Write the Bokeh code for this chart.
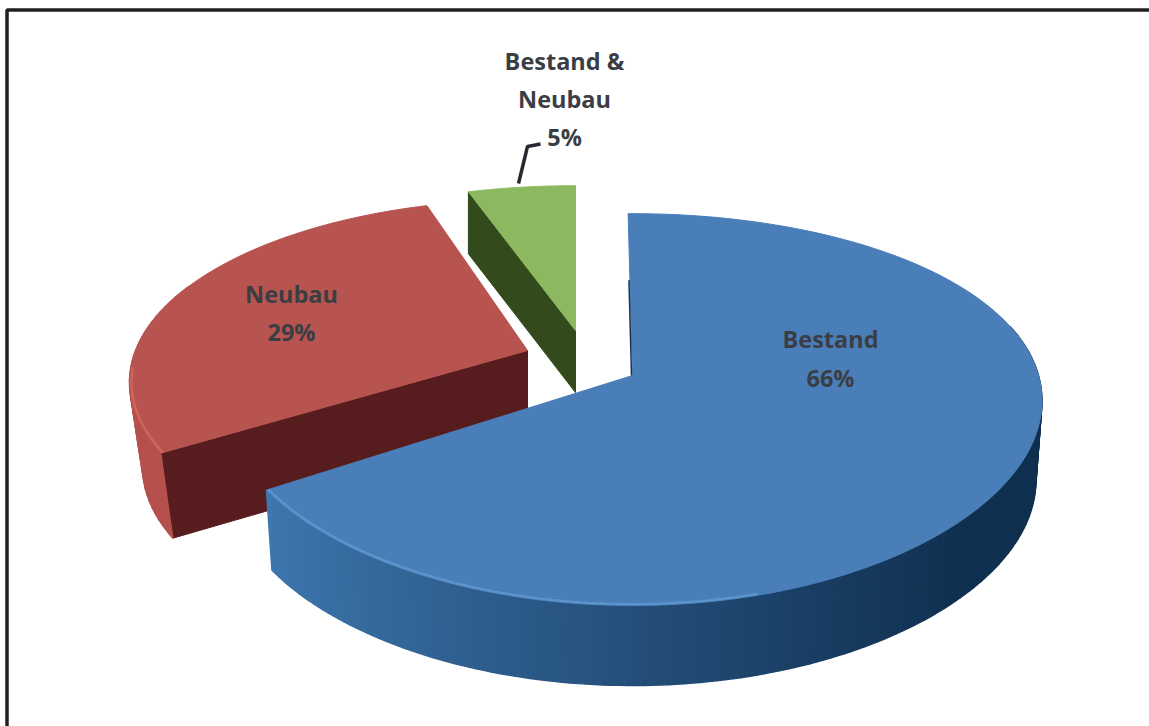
import numpy as np
from bokeh.core.properties import value
from bokeh.embed import file_html
from bokeh.models import Range1d
from bokeh.plotting import figure
from bokeh.resources import INLINE

# Share of each building type, clockwise from twelve o'clock
categories = ["Bestand", "Neubau", "Bestand & Neubau"]
shares = [66, 29, 5]
label_lines = [["Bestand", "66%"], ["Neubau", "29%"], ["Bestand &", "Neubau", "5%"]]

# Exploded-pie layout per slice: apex, radii, wall depth, taper of the wall's
# lower edge, small rotation and horizontal perspective
apex_x = [632, 527, 575]
apex_y = [375, 350, 330]
radius_x = [406, 392, 404]
radius_y = [190, 177, 170]
depth = [80, 85, 62]
taper = [0.985, 0.967, 1.0]
rotation = np.deg2rad([-0.7, 0.6, 0.0])
perspective_x = [0.13, 0.174, 0.174]
perspective_y = 0.174

top_colors = ["#4a7eb9", "#b85450", "#8cb85f"]
cut_colors = ["#123352", "#571c1e", "#324a1c"]
wall_left = np.array([0x3f, 0x78, 0xb0])
wall_right = np.array([0x10, 0x30, 0x50])
red_wall = "#b5504d"


def project(i, theta, radial=1.0, lowered=False):
    """Map a point of slice i on the tilted disc to the page."""
    u = radial * np.sin(theta + rotation[i])
    v = radial * np.cos(theta + rotation[i])
    x = radius_x[i] * u / (1 + perspective_x[i] * v)
    y = apex_y[i] - radius_y[i] * v / (1 + perspective_y * v)
    if lowered:
        return apex_x[i] + x * taper[i], y + depth[i]
    return apex_x[i] + x, y


WIDTH, HEIGHT = 1149, 726
p = figure(width=WIDTH, height=HEIGHT, output_backend="svg", toolbar_location=None,
           x_range=Range1d(0, WIDTH), y_range=Range1d(HEIGHT, 0), min_border=0,
           outline_line_color=None, background_fill_color="white", border_fill_color="white")
p.axis.visible = False
p.grid.visible = False

# Slice angles follow from the shares
edges = np.cumsum([0] + shares) / sum(shares) * 2 * np.pi
start, stop = edges[:-1], edges[1:]


def wall_strip(i, t0, t1):
    x0, y0 = project(i, t0)
    x1, y1 = project(i, t1)
    x2, y2 = project(i, t1, lowered=True)
    x3, y3 = project(i, t0, lowered=True)
    return [x0, x1, x2, x3], [y0, y1, y2, y3]


def cut_face(i, theta):
    x0, y0 = project(i, theta, 0.0)
    x1, y1 = project(i, theta)
    x2, y2 = project(i, theta, lowered=True)
    x3, y3 = project(i, theta, 0.0, lowered=True)
    return [x0, x1, x2, x3], [y0, y1, y2, y3]


def draw_slice(i, outer_walls, cut_angle):
    if cut_angle is not None:
        xs, ys = cut_face(i, cut_angle)
        p.patch(xs, ys, fill_color=cut_colors[i], line_color=cut_colors[i], line_width=1)
    for xs, ys, color in outer_walls:
        p.patch(xs, ys, fill_color=color, line_color=color, line_width=1.4)
    t = np.linspace(start[i], stop[i], 120)
    x, y = project(i, t)
    p.patch([apex_x[i], *x], [apex_y[i], *y], fill_color=top_colors[i],
            line_color=top_colors[i], line_width=1)


# Green slice: only its cut face shows beside the top
draw_slice(2, [], start[2])

# Red slice: lit outer wall on the far left, dark cut face in front
t = np.linspace(start[1], np.deg2rad(292), 30)
draw_slice(1, [(*wall_strip(1, a, b), red_wall) for a, b in zip(t[:-1], t[1:])], start[1])

# Highlight along the lower part of the red rim
t = np.linspace(start[1], np.deg2rad(264), 30)
x, y = project(1, t, 0.995)
p.line(x, y, line_color="#d8665f", line_width=2.5, line_alpha=0.8)

# Blue slice: outer wall darkens from left to right
t = np.linspace(np.deg2rad(75), stop[0], 160)
walls = []
for a, b in zip(t[:-1], t[1:]):
    k = np.clip((np.sin(a) + 0.85) / 1.6, 0, 1) ** 0.9
    c = (wall_left * (1 - k) + wall_right * k).astype(int)
    walls.append((*wall_strip(0, a, b), "#%02x%02x%02x" % tuple(c)))
draw_slice(0, walls, None)

# Lighter bevel along the blue rim
t = np.linspace(np.deg2rad(165), stop[0], 80)
x, y = project(0, t, 0.995)
p.line(x, y, line_color="#5f9ad0", line_width=2.5, line_alpha=0.8)

# Thin dark sliver on the upright edge of the blue slice
x, y = project(0, np.array([0.0, 0.0]), np.array([0.0, 0.55]))
p.line(x - 1, y, line_color=cut_colors[0], line_width=1.5)

# Leader from the green slice to its label
p.line([518, 527, 540], [183, 146, 143.5], line_color="#262a30", line_width=3.5)

# Labels
label_x = [830, 291, 564]
label_y = [338, 293, 60]
line_gap = [39, 38, 38]
for lines, lx, ly, gap in zip(label_lines, label_x, label_y, line_gap):
    p.text([lx] * len(lines), [ly + n * gap for n in range(len(lines))], text=lines,
           text_font=value("Open Sans"), text_font_size="23.5px", text_color="#3a3e44",
           text_font_style="bold", text_align="center", text_baseline="middle")

# Page frame, open at the bottom and right
p.line([6.5, 6.5, 1149], [726, 9.5, 9.5], line_color="#231f20", line_width=3.5)

open("out.html", "w").write(file_html(p, INLINE))
